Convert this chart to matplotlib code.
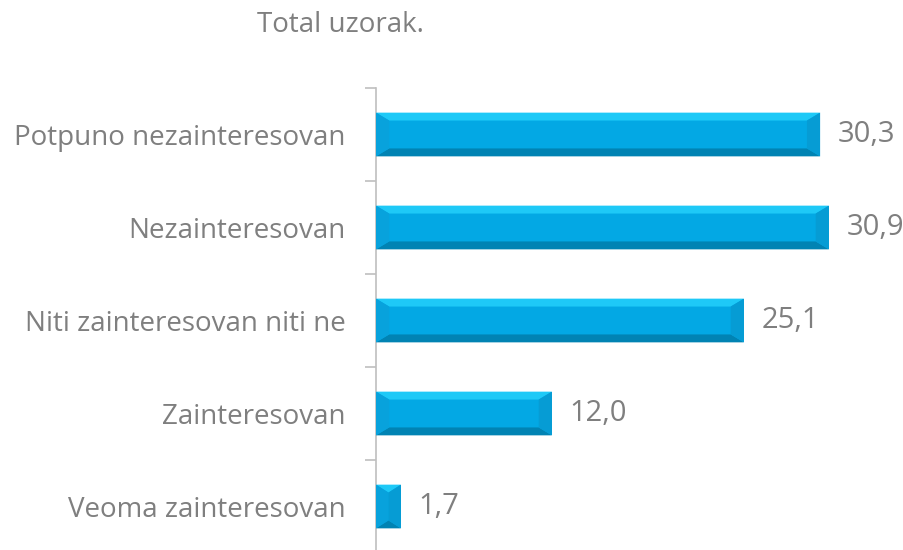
import matplotlib.pyplot as plt
from matplotlib.patches import Polygon

plt.rcParams['font.family'] = ['Open Sans', 'DejaVu Sans']

categories = ['Potpuno nezainteresovan', 'Nezainteresovan', 'Niti zainteresovan niti ne',
              'Zainteresovan', 'Veoma zainteresovan']
values = [30.3, 30.9, 25.1, 12.0, 1.7]
title = 'Total uzorak.'

gray = '#7F7F7F'
axis_gray = '#BFBFBF'

fig = plt.figure(figsize=(9.04, 5.5), dpi=100)
ax = fig.add_axes([376 / 904, -3 / 550, 513 / 904, 465 / 550])

ax.set_xlim(0, 35)
ax.set_ylim(len(categories) - 0.5, -0.5)

bar_h = 0.47
bx_max, by = 0.9, 0.085

for i, v in enumerate(values):
    top, bot = i - bar_h / 2, i + bar_h / 2
    bx = min(bx_max, v / 2)
    # flat face of the bar
    ax.barh(i, v, height=bar_h, color='#03A8E4', edgecolor='none', zorder=2)
    # bevelled edges
    faces = [
        ([(0, top), (v, top), (v - bx, top + by), (bx, top + by)], '#1EC9F7'),
        ([(0, bot), (v, bot), (v - bx, bot - by), (bx, bot - by)], '#0183B3'),
        ([(0, top), (bx, top + by), (bx, bot - by), (0, bot)], '#08A2DC'),
        ([(v, top), (v - bx, top + by), (v - bx, bot - by), (v, bot)], '#069CD4'),
    ]
    for pts, c in faces:
        ax.add_patch(Polygon(pts, closed=True, facecolor=c, edgecolor='none', zorder=3))
    ax.text(v + 1.2, i, f'{v:.1f}'.replace('.', ','), va='center', ha='left',
            fontsize=21, color=gray)

ax.set_yticks(range(len(categories)))
ax.set_yticklabels(categories, fontsize=20, color=gray)
ax.tick_params(axis='y', length=0, pad=22)
ax.set_yticks([i + 0.5 for i in range(-1, len(categories))], minor=True)
ax.tick_params(axis='y', which='minor', length=8, color=axis_gray, width=1.2)
ax.set_xticks([])

for s in ['top', 'right', 'bottom']:
    ax.spines[s].set_visible(False)
ax.spines['left'].set_color(axis_gray)
ax.spines['left'].set_linewidth(1.2)

fig.text(340 / 904, 1 - 25 / 550, title, ha='center', va='center', fontsize=20, color=gray)

plt.savefig('out.png', dpi=100)
plt.close()
